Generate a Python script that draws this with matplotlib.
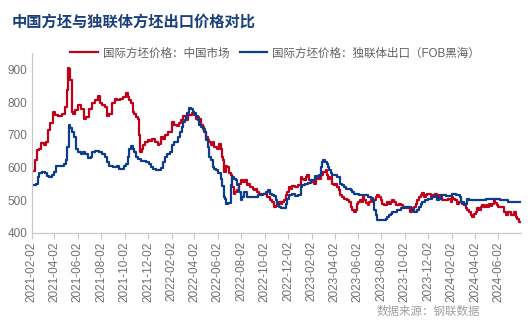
import matplotlib
matplotlib.use("Agg")
import matplotlib.pyplot as plt
import matplotlib.dates as mdates
import pandas as pd

plt.rcParams['font.family'] = ['Liberation Sans', 'Noto Sans CJK SC', 'DejaVu Sans']

# 国际方坯价格：中国市场
red_dates = [
    "2021-02-02", "2021-02-08", "2021-02-13", "2021-02-17", "2021-02-24", "2021-03-01", "2021-03-09",
    "2021-03-11", "2021-03-19", "2021-03-26", "2021-04-01", "2021-04-08", "2021-04-17", "2021-04-25",
    "2021-05-02", "2021-05-06", "2021-05-09", "2021-05-12", "2021-05-15", "2021-05-18", "2021-05-23",
    "2021-05-30", "2021-06-08", "2021-06-15", "2021-06-21", "2021-06-27", "2021-07-04", "2021-07-13",
    "2021-07-21", "2021-07-28", "2021-08-02", "2021-08-08", "2021-08-15", "2021-08-18", "2021-08-25",
    "2021-09-03", "2021-09-10", "2021-09-16", "2021-09-24", "2021-10-03", "2021-10-07", "2021-10-12",
    "2021-10-16", "2021-10-21", "2021-10-25", "2021-10-29", "2021-11-02", "2021-11-07", "2021-11-09",
    "2021-11-13", "2021-11-17", "2021-11-22", "2021-11-28", "2021-12-04", "2021-12-10", "2021-12-16",
    "2021-12-25", "2021-12-29", "2022-01-02", "2022-01-08", "2022-01-13", "2022-01-19", "2022-01-25",
    "2022-02-01", "2022-02-06", "2022-02-10", "2022-02-19", "2022-02-23", "2022-02-27", "2022-03-08",
    "2022-03-12", "2022-03-21", "2022-03-30", "2022-04-03", "2022-04-08", "2022-04-12", "2022-04-16",
    "2022-04-21", "2022-04-25", "2022-04-29", "2022-05-04", "2022-05-08", "2022-05-12", "2022-05-17",
    "2022-05-21", "2022-05-25", "2022-06-03", "2022-06-07", "2022-06-12", "2022-06-14", "2022-06-18",
    "2022-06-20", "2022-06-25", "2022-06-29", "2022-07-03", "2022-07-08", "2022-07-12", "2022-07-15",
    "2022-07-19", "2022-07-25", "2022-07-29", "2022-08-03", "2022-08-09", "2022-08-14", "2022-08-18",
    "2022-08-23", "2022-08-29", "2022-09-03", "2022-09-07", "2022-09-11", "2022-09-15", "2022-09-20",
    "2022-10-07", "2022-10-11", "2022-10-20", "2022-10-24", "2022-10-29", "2022-11-02", "2022-11-06",
    "2022-11-11", "2022-11-15", "2022-11-19", "2022-11-24", "2022-11-28", "2022-12-02", "2022-12-07",
    "2022-12-11", "2022-12-15", "2022-12-24", "2023-01-02", "2023-01-06", "2023-01-11", "2023-01-15",
    "2023-01-19", "2023-01-23", "2023-01-28", "2023-02-01", "2023-02-06", "2023-02-10", "2023-02-14",
    "2023-02-19", "2023-02-23", "2023-02-27", "2023-03-08", "2023-03-12", "2023-03-15", "2023-03-18",
    "2023-03-24", "2023-03-30", "2023-04-03", "2023-04-07", "2023-04-12", "2023-04-16", "2023-04-19",
    "2023-04-22", "2023-04-29", "2023-05-08", "2023-05-12", "2023-05-16", "2023-05-21", "2023-05-25",
    "2023-05-29", "2023-06-01", "2023-06-05", "2023-06-10", "2023-06-13", "2023-06-17", "2023-06-20",
    "2023-06-25", "2023-06-29", "2023-07-03", "2023-07-08", "2023-07-12", "2023-07-16", "2023-07-21",
    "2023-07-25", "2023-07-29", "2023-08-03", "2023-08-07", "2023-08-11", "2023-08-20", "2023-08-24",
    "2023-08-29", "2023-09-02", "2023-09-06", "2023-09-15", "2023-09-19", "2023-09-24", "2023-10-02",
    "2023-10-11", "2023-10-20", "2023-10-24", "2023-10-29", "2023-11-02", "2023-11-06", "2023-11-11",
    "2023-11-15", "2023-11-19", "2023-11-24", "2023-11-28", "2023-12-02", "2023-12-07", "2023-12-11",
    "2023-12-15", "2023-12-24", "2023-12-28", "2024-01-02", "2024-01-06", "2024-01-10", "2024-01-19",
    "2024-01-28", "2024-02-01", "2024-02-04", "2024-02-07", "2024-02-12", "2024-02-18", "2024-02-23",
    "2024-03-02", "2024-03-07", "2024-03-11", "2024-03-16", "2024-03-20", "2024-03-24", "2024-03-29",
    "2024-04-02", "2024-04-06", "2024-04-11", "2024-04-15", "2024-04-19", "2024-04-24", "2024-04-28",
    "2024-05-02", "2024-05-07", "2024-05-11", "2024-05-15", "2024-05-20", "2024-05-24", "2024-05-27",
    "2024-05-30", "2024-06-04", "2024-06-15", "2024-06-19", "2024-06-23", "2024-07-02", "2024-07-06",
    "2024-07-11", "2024-07-15", "2024-07-19", "2024-07-24", "2024-07-28",
]
red_values = [
    590, 590, 622, 653, 658, 675, 668,
    678, 714, 735, 770, 760, 757, 765,
    786, 837, 903, 900, 867, 770, 765,
    775, 790, 780, 750, 755, 780, 796,
    808, 818, 796, 791, 786, 757, 765,
    796, 811, 806, 811, 815, 827, 816,
    808, 796, 770, 765, 755, 750, 699,
    648, 658, 668, 679, 684, 680, 688,
    679, 668, 673, 692, 688, 699, 709,
    709, 740, 730, 728, 735, 745, 757,
    745, 760, 767, 760, 750, 755, 750,
    730, 724, 709, 694, 684, 679, 668,
    679, 663, 658, 673, 658, 633, 622,
    587, 604, 602, 582, 577, 541, 520,
    525, 531, 551, 561, 556, 561, 546,
    551, 541, 536, 531, 536, 525, 520,
    520, 510, 502, 495, 480, 482, 490,
    495, 490, 495, 500, 515, 525, 541,
    536, 543, 541, 546, 571, 566, 563,
    571, 577, 563, 561, 556, 551, 566,
    571, 566, 577, 587, 592, 577, 566,
    571, 551, 546, 551, 541, 531, 515,
    510, 505, 500, 495, 480, 469, 464,
    469, 490, 495, 500, 495, 510, 500,
    492, 485, 495, 500, 495, 500, 510,
    515, 510, 500, 490, 485, 495, 490,
    495, 500, 495, 485, 490, 485, 480,
    475, 464, 470, 480, 490, 500, 510,
    515, 522, 510, 515, 520, 520, 510,
    515, 520, 505, 515, 510, 500, 502,
    505, 495, 510, 505, 500, 490, 495,
    490, 490, 475, 469, 464, 454, 449,
    459, 464, 475, 469, 480, 485, 480,
    487, 480, 490, 482, 490, 500, 492,
    485, 480, 480, 464, 454, 464, 454,
    454, 464, 449, 444, 434,
]

# 国际方坯价格：独联体出口（FOB黑海）
blue_dates = [
    "2021-02-02", "2021-02-11", "2021-02-15", "2021-02-19", "2021-02-25", "2021-03-04", "2021-03-11",
    "2021-03-17", "2021-03-23", "2021-03-28", "2021-04-03", "2021-04-09", "2021-04-25", "2021-04-29",
    "2021-05-04", "2021-05-08", "2021-05-11", "2021-05-14", "2021-05-19", "2021-05-25", "2021-05-30",
    "2021-06-06", "2021-06-12", "2021-06-18", "2021-06-25", "2021-07-02", "2021-07-08", "2021-07-12",
    "2021-07-21", "2021-07-31", "2021-08-07", "2021-08-14", "2021-08-20", "2021-08-26", "2021-09-09",
    "2021-09-15", "2021-09-21", "2021-09-28", "2021-10-05", "2021-10-08", "2021-10-12", "2021-10-16",
    "2021-10-21", "2021-10-25", "2021-10-29", "2021-11-02", "2021-11-07", "2021-11-20", "2021-12-03",
    "2021-12-07", "2021-12-11", "2021-12-18", "2021-12-25", "2022-01-02", "2022-01-08", "2022-01-13",
    "2022-01-19", "2022-01-24", "2022-01-31", "2022-02-06", "2022-02-10", "2022-02-17", "2022-02-21",
    "2022-02-26", "2022-03-01", "2022-03-06", "2022-03-08", "2022-03-12", "2022-03-17", "2022-03-21",
    "2022-03-26", "2022-03-30", "2022-04-03", "2022-04-08", "2022-04-12", "2022-04-16", "2022-04-21",
    "2022-04-27", "2022-05-01", "2022-05-05", "2022-05-08", "2022-05-12", "2022-05-17", "2022-05-21",
    "2022-05-25", "2022-06-01", "2022-06-06", "2022-06-12", "2022-06-16", "2022-06-19", "2022-06-20",
    "2022-06-25", "2022-07-02", "2022-07-08", "2022-07-12", "2022-07-16", "2022-07-21", "2022-07-25",
    "2022-07-29", "2022-08-03", "2022-08-07", "2022-08-12", "2022-08-16", "2022-08-20", "2022-09-07",
    "2022-09-24", "2022-10-03", "2022-10-07", "2022-10-14", "2022-10-17", "2022-10-23", "2022-10-29",
    "2022-11-02", "2022-11-06", "2022-11-11", "2022-11-18", "2022-11-24", "2022-11-28", "2022-12-02",
    "2022-12-07", "2022-12-15", "2022-12-24", "2023-01-02", "2023-01-06", "2023-01-11", "2023-01-19",
    "2023-01-28", "2023-02-01", "2023-02-06", "2023-02-14", "2023-02-19", "2023-02-23", "2023-02-26",
    "2023-03-01", "2023-03-06", "2023-03-10", "2023-03-15", "2023-03-18", "2023-03-21", "2023-03-25",
    "2023-03-30", "2023-04-16", "2023-04-19", "2023-04-22", "2023-04-29", "2023-05-06", "2023-05-12",
    "2023-05-16", "2023-05-21", "2023-05-25", "2023-06-01", "2023-06-07", "2023-06-25", "2023-07-03",
    "2023-07-08", "2023-07-12", "2023-07-16", "2023-07-21", "2023-07-25", "2023-08-11", "2023-08-16",
    "2023-08-20", "2023-08-24", "2023-08-29", "2023-09-02", "2023-09-11", "2023-09-15", "2023-09-19",
    "2023-09-28", "2023-10-07", "2023-10-15", "2023-10-20", "2023-10-24", "2023-10-29", "2023-11-02",
    "2023-11-06", "2023-11-11", "2023-11-15", "2023-11-19", "2023-11-28", "2023-12-07", "2023-12-15",
    "2023-12-24", "2023-12-28", "2024-01-02", "2024-01-06", "2024-01-28", "2024-02-05", "2024-02-21",
    "2024-02-24", "2024-02-29", "2024-03-07", "2024-03-11", "2024-03-16", "2024-03-20", "2024-03-29",
    "2024-04-28", "2024-05-02", "2024-06-02", "2024-06-08", "2024-06-23", "2024-07-02", "2024-07-28",
]
blue_values = [
    546, 546, 551, 571, 582, 587, 582,
    573, 571, 576, 587, 604, 604, 612,
    622, 663, 730, 720, 709, 694, 658,
    648, 643, 648, 643, 628, 633, 648,
    651, 648, 643, 633, 617, 604, 602,
    604, 597, 597, 604, 612, 633, 658,
    665, 658, 648, 633, 625, 619, 617,
    612, 602, 597, 594, 594, 600, 617,
    633, 643, 648, 668, 679, 679, 694,
    709, 724, 740, 745, 755, 767, 781,
    778, 770, 767, 757, 745, 730, 724,
    719, 709, 684, 663, 633, 622, 602,
    597, 592, 582, 566, 545, 510, 505,
    490, 492, 546, 571, 566, 561, 546,
    525, 500, 510, 525, 525, 510, 510,
    515, 520, 525, 531, 520, 515, 512,
    500, 490, 480, 475, 475, 490, 505,
    515, 520, 512, 515, 541, 546, 551,
    553, 561, 563, 574, 571, 577, 602,
    617, 622, 617, 612, 602, 592, 582,
    577, 571, 551, 546, 541, 536, 536,
    531, 525, 520, 520, 515, 515, 510,
    508, 500, 469, 454, 441, 439, 444,
    449, 454, 459, 464, 464, 469, 471,
    475, 478, 480, 475, 469, 464, 464,
    469, 480, 490, 495, 500, 505, 510,
    512, 502, 505, 515, 512, 520, 517,
    510, 495, 487, 490, 505, 502, 500,
    500, 505, 505, 500, 500, 495, 495,
]

tick_labels = [
    "2021-02-02", "2021-04-02", "2021-06-02", "2021-08-02", "2021-10-02", "2021-12-02",
    "2022-02-02", "2022-04-02", "2022-06-02", "2022-08-02", "2022-10-02", "2022-12-02",
    "2023-02-02", "2023-04-02", "2023-06-02", "2023-08-02", "2023-10-02", "2023-12-02",
    "2024-02-02", "2024-04-02", "2024-06-02",
]
y_ticks = [400, 500, 600, 700, 800, 900]

red_name = "国际方坯价格：中国市场"
blue_name = "国际方坯价格：独联体出口（FOB黑海）"

fig = plt.figure(figsize=(5.3, 3.3), dpi=100)
ax = fig.add_axes([0.060, 0.294, 0.923, 0.545])

ax.plot(pd.to_datetime(red_dates), red_values, color="#C00018", lw=1.6,
        drawstyle="steps-mid", label=red_name)
ax.plot(pd.to_datetime(blue_dates), blue_values, color="#0C3C8C", lw=1.6,
        drawstyle="steps-mid", label=blue_name)

ax.set_xlim(pd.Timestamp("2021-02-02"), pd.Timestamp("2024-07-31"))
ax.set_ylim(400, 950)
ax.set_yticks(y_ticks)
ax.set_xticks(pd.to_datetime(tick_labels))
ax.set_xticklabels(tick_labels, rotation=90)

for s in ["top", "right"]:
    ax.spines[s].set_visible(False)
for s in ["left", "bottom"]:
    ax.spines[s].set_color("#C8C8C8")
    ax.spines[s].set_linewidth(0.9)

ax.tick_params(axis="y", length=0, labelsize=8.5, labelcolor="#707070", pad=3)
ax.tick_params(axis="x", length=4, color="#C8C8C8", labelsize=8.5, labelcolor="#707070", pad=2)

fig.text(0.022, 0.935, "中国方坯与独联体方坯出口价格对比", fontsize=11, fontweight="bold",
         color="#1A3F7A", family=["Noto Sans CJK SC", "DejaVu Sans"], va="center")

leg = fig.legend(loc="center left", bbox_to_anchor=(0.133, 0.838), ncol=2, frameon=False,
                 fontsize=8.3, handlelength=2.4, handletextpad=0.4, columnspacing=0.9,
                 borderpad=0, borderaxespad=0)
for t in leg.get_texts():
    t.set_color("#606060")

fig.text(0.905, 0.055, "数据来源：钢联数据", fontsize=8.3, color="#A0A0A0",
         ha="right", va="center", family=["Noto Sans CJK SC", "DejaVu Sans"])

fig.savefig("out.png", dpi=100)
